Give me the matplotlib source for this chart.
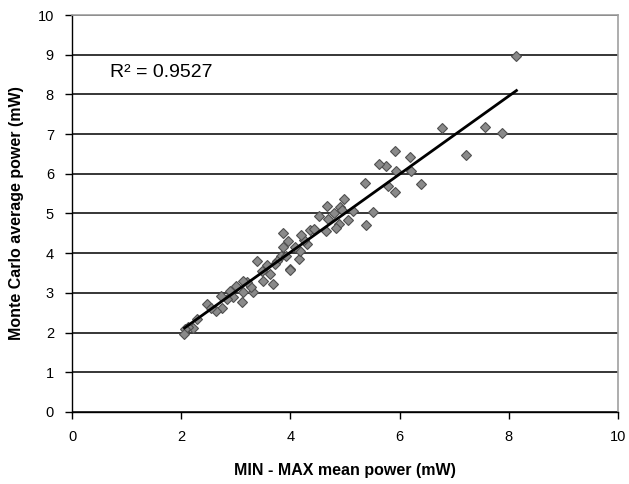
import numpy as np
import matplotlib
matplotlib.use("Agg")
import matplotlib.pyplot as plt

plt.rcParams['font.family'] = ['Liberation Sans', 'DejaVu Sans']

# MIN-MAX mean power vs Monte Carlo average power (mW)
minmax_power = [8.14, 7.87, 7.57, 7.21, 6.78, 6.40, 6.19, 6.21, 5.92, 5.93,
                5.92, 5.75, 5.63, 5.79, 5.37, 5.51, 5.39, 5.15, 5.06, 4.99,
                4.91, 4.95, 4.89, 4.84, 4.79, 4.67, 4.68, 4.65, 4.53, 4.36,
                4.30, 4.24, 4.19, 4.16, 4.18, 4.08, 3.99, 3.96, 3.86, 3.87,
                3.82, 3.75, 3.72, 3.68, 3.62, 3.57, 3.50, 3.48, 3.39, 3.31,
                3.27, 3.20, 3.14, 3.13, 3.11, 3.01, 2.94, 2.90, 2.83, 2.74,
                2.72, 2.63, 2.48, 2.54, 2.28, 2.22, 2.13, 2.07, 2.06, 4.00,
                4.43, 3.92]
montecarlo_power = [8.97, 7.02, 7.18, 6.48, 7.16, 5.74, 6.41, 6.08, 6.58, 6.08,
                    5.55, 6.20, 6.25, 5.68, 5.76, 5.03, 4.70, 5.06, 4.83, 5.37,
                    5.16, 5.08, 4.73, 4.64, 5.01, 5.20, 4.85, 4.56, 4.93, 4.58,
                    4.24, 4.33, 4.46, 3.85, 4.05, 4.16, 3.60, 4.30, 4.16, 4.51,
                    3.93, 3.81, 3.72, 3.22, 3.48, 3.70, 3.31, 3.56, 3.81, 3.03,
                    3.14, 3.28, 3.03, 3.31, 2.76, 3.16, 2.89, 3.04, 2.85, 2.63,
                    2.92, 2.55, 2.71, 2.63, 2.35, 2.12, 2.14, 2.08, 1.96, 3.57,
                    4.60, 3.93]
r2_label = "R² = 0.9527"

x = np.array(minmax_power)
y = np.array(montecarlo_power)

fig = plt.figure(figsize=(6.29, 4.84), dpi=100)
ax = fig.add_axes([0.1145, 0.149, 0.868, 0.82])

# horizontal gridlines
ax.set_axisbelow(True)
ax.yaxis.grid(True, color='black', linewidth=1.1)

ax.plot(x, y, linestyle='none', marker='D', markersize=5.6,
        markerfacecolor='#8a8a8a', markeredgecolor='#505050',
        markeredgewidth=0.8, zorder=3)

# linear trendline
k, b = np.polyfit(x, y, 1)
xs = np.array([x.min(), x.max()])
ax.plot(xs, k * xs + b, color='black', linewidth=2.0, zorder=4)

ax.text(0.7, 8.55, r2_label, fontsize=14, va='center', ha='left')

ax.set_xlim(0, 10)
ax.set_ylim(0, 10)
ax.set_xticks(np.arange(0, 11, 2))
ax.set_yticks(np.arange(0, 11, 1))
ax.tick_params(direction='out', length=5, width=1, labelsize=10.5,
               colors='black', pad=8)

for s in ['left', 'bottom']:
    ax.spines[s].set_color('black')
    ax.spines[s].set_linewidth(1.0)
for s in ['top', 'right']:
    ax.spines[s].set_color('#a0a0a0')
    ax.spines[s].set_linewidth(1.2)

ax.set_xlabel("MIN - MAX mean power (mW)", fontsize=11.5, fontweight='bold',
              labelpad=14)
ax.set_ylabel("Monte Carlo average power (mW)", fontsize=11.5,
              fontweight='bold', labelpad=10)

fig.savefig("out.png", dpi=100)
